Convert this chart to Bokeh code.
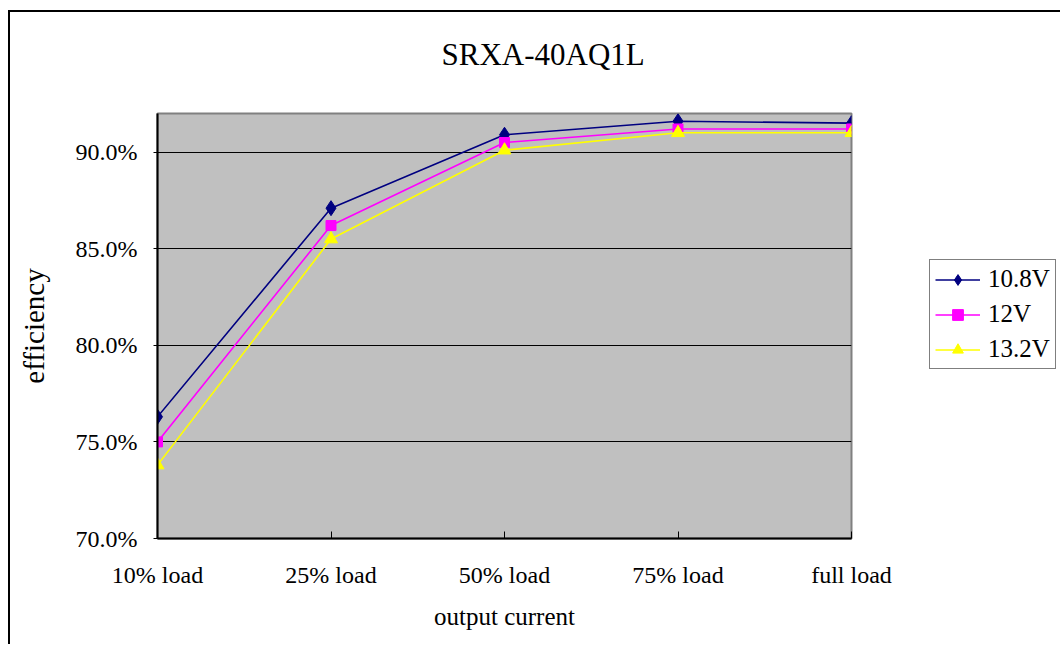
from bokeh.plotting import figure
from bokeh.layouts import row
from bokeh.models import (Range1d, FixedTicker, Legend, LegendItem, LinearAxis)
from bokeh.embed import file_html
from bokeh.resources import INLINE

categories = ["10% load", "25% load", "50% load", "75% load", "full load"]
v108 = [76.3, 87.1, 90.9, 91.6, 91.5]
v12 = [75.0, 86.2, 90.5, 91.2, 91.2]
v132 = [73.8, 85.5, 90.1, 91.0, 91.0]
y_ticks = [70, 75, 80, 85, 90]
y_tick_labels = ["70.0%", "75.0%", "80.0%", "85.0%", "90.0%"]
series_names = ["10.8V", "12V", "13.2V"]
series_colors = ["#000080", "#FF00FF", "#FFFF00"]
series_markers = ["diamond", "square", "triangle"]
marker_sizes = [15, 10, 13]
title_text = "SRXA-40AQ1L"
x_title = "output current"
y_title = "efficiency"

FONT = "Liberation Serif"
x = list(range(len(categories)))
series_values = [v108, v12, v132]

p = figure(width=901, height=632, output_backend="svg", toolbar_location=None,
           x_range=Range1d(0, len(categories) - 1), y_range=Range1d(70, 92),
           min_border_left=147, min_border_right=60, min_border_top=101,
           min_border_bottom=106, title=title_text)
p.background_fill_color = "#C0C0C0"
p.border_fill_color = "white"
p.outline_line_color = "#808080"
p.outline_line_width = 2

p.title.text_font = FONT
p.title.text_font_size = "31px"
p.title.text_font_style = "normal"
p.title.text_color = "black"
p.title.align = "left"
p.title.offset = 284
p.title.standoff = 10

xa = p.below[0]
ya = p.left[0]
xa.ticker = FixedTicker(ticks=x)
xa.major_label_overrides = {i: c for i, c in zip(x, categories)}
ya.ticker = FixedTicker(ticks=y_ticks)
ya.major_label_overrides = {t: l for t, l in zip(y_ticks, y_tick_labels)}
for ax in (xa, ya):
    ax.axis_line_color = "black"
    ax.axis_line_width = 2
    ax.major_tick_line_color = "black"
    ax.minor_tick_line_color = None
    ax.major_label_text_font = FONT
    ax.major_label_text_font_size = "24px"
    ax.major_label_text_color = "black"
    ax.axis_label_text_font = FONT
    ax.axis_label_text_font_style = "normal"
    ax.axis_label_text_color = "black"
xa.major_tick_in = 7
xa.major_tick_out = 0
xa.major_label_standoff = 23
xa.axis_label = x_title
xa.axis_label_text_font_size = "25px"
xa.axis_label_standoff = 12
ya.major_tick_in = 0
ya.major_tick_out = 4
ya.major_label_standoff = 16
ya.axis_label = y_title
ya.axis_label_text_font_size = "29px"
ya.axis_label_standoff = 23

# invisible spacer between frame and title (one hidden tick gives it its height)
p.add_layout(LinearAxis(ticker=FixedTicker(ticks=[x[0]]), axis_line_color=None,
                        major_tick_line_color=None, minor_tick_line_color=None,
                        major_tick_in=0, major_tick_out=37, minor_tick_out=0,
                        major_label_standoff=0, major_label_text_font_size="2px",
                        major_label_text_color=None), "above")

p.xgrid.grid_line_color = None
p.ygrid.grid_line_color = "black"
p.ygrid.grid_line_width = 1
p.ygrid.ticker = FixedTicker(ticks=y_ticks)

# series
for vals, col, mk, sz in zip(series_values, series_colors, series_markers, marker_sizes):
    p.line(x, vals, line_color=col, line_width=1.6)
    p.scatter(x, vals, marker=mk, size=sz, fill_color=col, line_color=col)

# legend panel (separate figure so the legend can sit outside the plot area);
# its ranges keep the series themselves out of view there
q = figure(width=149, height=632, output_backend="svg", toolbar_location=None,
           x_range=Range1d(0, 1), y_range=Range1d(0, 1), min_border=0)
q.axis.visible = False
q.grid.visible = False
q.outline_line_color = None
q.background_fill_color = "white"
q.border_fill_color = "white"
items = []
for name, vals, col, mk, sz in zip(series_names, series_values, series_colors,
                                   series_markers, marker_sizes):
    lr = q.line(x, vals, line_color=col, line_width=1.6)
    mr = q.scatter(x, vals, marker=mk, size=sz, fill_color=col, line_color=col)
    items.append(LegendItem(label=name, renderers=[lr, mr]))
legend = Legend(items=items, location=(18, 169))
legend.label_text_font = FONT
legend.label_text_font_size = "25px"
legend.label_text_color = "black"
legend.border_line_color = "black"
legend.border_line_width = 1
legend.background_fill_color = "white"
legend.background_fill_alpha = 1
legend.glyph_width = 45
legend.glyph_height = 27
legend.label_height = 27
legend.label_standoff = 8
legend.padding = 5
legend.spacing = 7
legend.margin = 0
q.add_layout(legend, "center")

layout = row(p, q, spacing=0)
layout.styles = {"margin-left": "8px", "margin-top": "10px",
                 "border-left": "2px solid black", "border-top": "2px solid black"}

open("out.html", "w").write(file_html(layout, INLINE))
